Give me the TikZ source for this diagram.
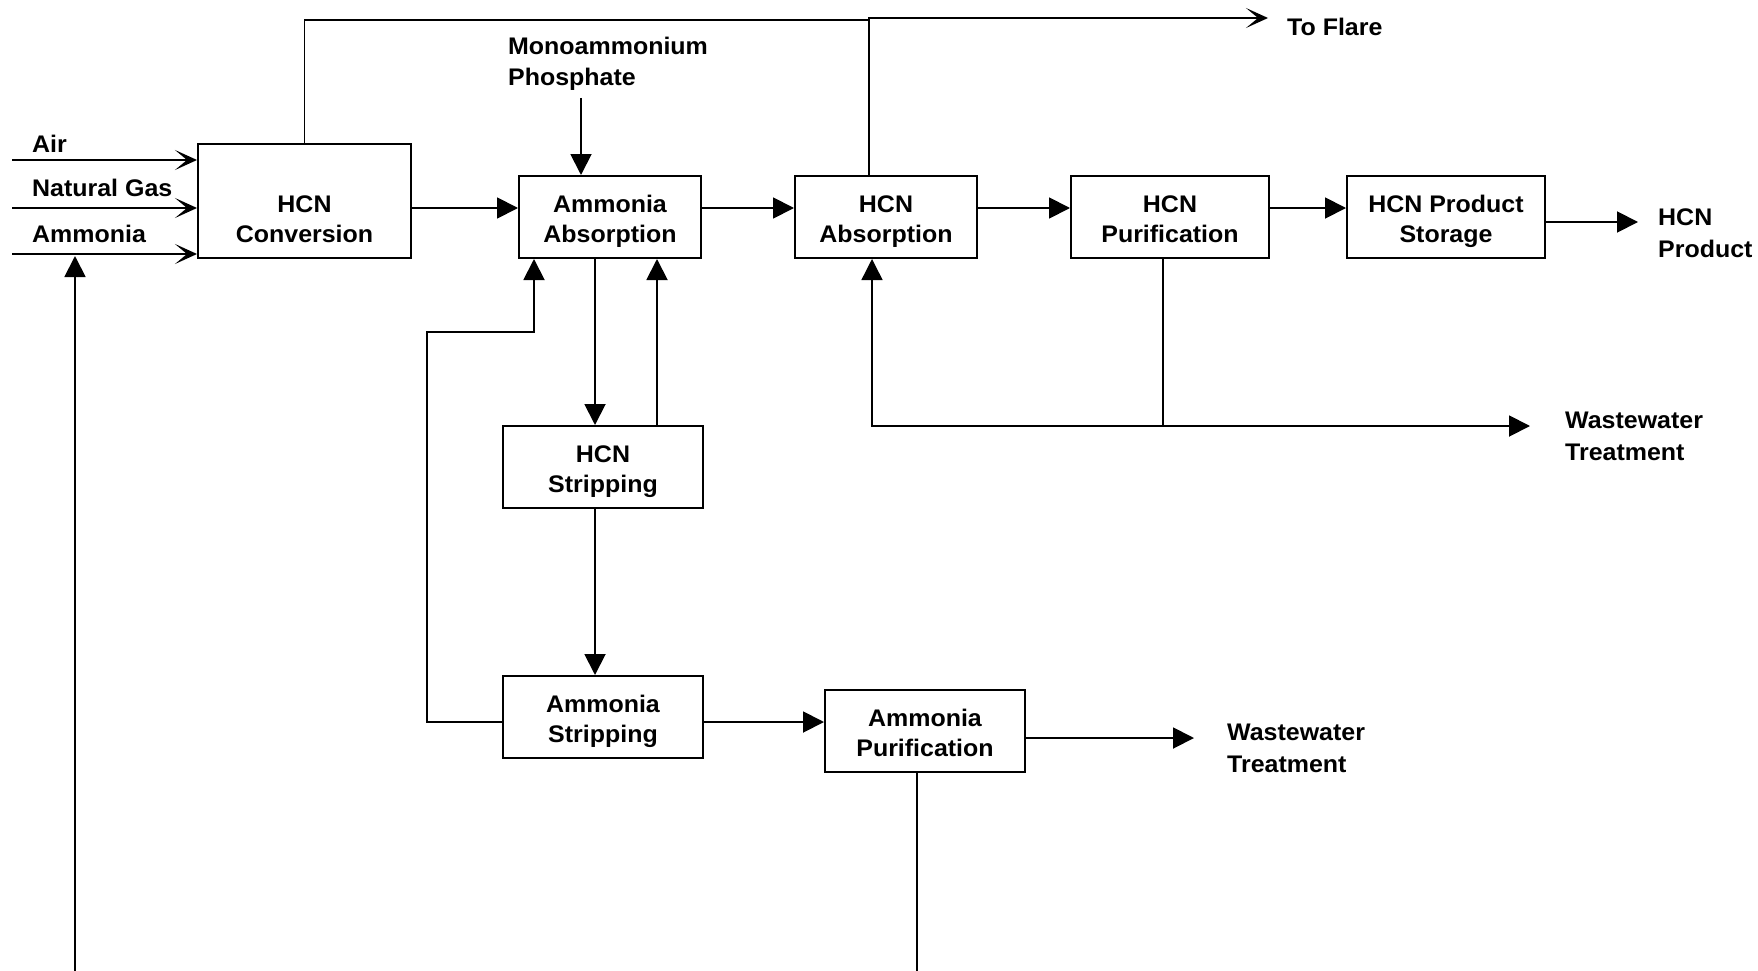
\documentclass[tikz,border=0pt]{standalone}
\usepackage{fontspec}
\setmainfont{Liberation Sans}[FakeStretch=1.04]
\usetikzlibrary{arrows.meta}
\newcommand{\boxfont}{\bfseries\fontsize{24}{30}\selectfont}
\newcommand{\lblfont}{\bfseries\fontsize{24}{31.5}\selectfont}
\begin{document}
\begin{tikzpicture}[x=1pt,y=-1pt,
  box/.style={draw, line width=2pt, rectangle, inner sep=0pt, align=center, font=\boxfont, text height=50pt, text depth=0pt},
  lbl/.style={inner sep=0pt, align=left, font=\lblfont, anchor=base west},
  plain/.style={line width=1.9pt},
  tarrow/.style={line width=1.9pt, -{Triangle[length=21pt,width=21pt]}},
  tarrowthin/.style={line width=1.4pt, -{Triangle[length=21pt,width=21pt]}},
  sarrow/.style={line width=1.9pt, -{Stealth[length=22pt,width=20pt,inset=12pt]}}]
\useasboundingbox (0,0) rectangle (1758,971);

% boxes
\node[draw, line width=2pt, rectangle, minimum width=213pt, minimum height=114pt] (conv) at (304.5,201) {};
\node[inner sep=0pt, align=center, font=\boxfont, text height=50pt, text depth=0pt] (convtext) at (304.5,217) {HCN\\Conversion};
\node[box, minimum width=182pt, minimum height=82pt] (aabs) at (610,217) {Ammonia\\Absorption};
\node[box, minimum width=182pt, minimum height=82pt] (habs) at (886,217) {HCN\\Absorption};
\node[box, minimum width=198pt, minimum height=82pt] (hpur) at (1170,217) {HCN\\Purification};
\node[box, minimum width=198pt, minimum height=82pt] (stor) at (1446,217) {HCN Product\\Storage};
\node[box, minimum width=200pt, minimum height=82pt] (hstr) at (603,467) {HCN\\Stripping};
\node[box, minimum width=200pt, minimum height=82pt] (astr) at (603,717) {Ammonia\\Stripping};
\node[box, minimum width=200pt, minimum height=82pt] (apur) at (925,731) {Ammonia\\Purification};

% labels (base = baseline of last line)
\node[lbl] (lair) at (32,153) {Air};
\node[lbl] (lng) at (32,196) {Natural Gas};
\node[lbl] (lam) at (32,242) {Ammonia};
\node[lbl] (lmono) at (508,86) {Monoammonium\\Phosphate};
\node[lbl] (lflare) at (1287,36) {To Flare};
\node[lbl] (lprod) at (1658,257) {HCN\\Product};
\node[lbl] (lww1) at (1565,460) {Wastewater\\Treatment};
\node[lbl] (lww2) at (1227,772) {Wastewater\\Treatment};

% helper coordinates
\coordinate (airS) at (12,160);
\coordinate (ngS) at (12,208);
\coordinate (amS) at (12,254);
\coordinate (recB) at (75,971);
\coordinate (recT) at (75,256);
\coordinate (topj) at (870,20);
\coordinate (fx) at (869,18);
\coordinate (flare) at (1268,18);
\coordinate (monoS) at (581,98);
\coordinate (y208) at (0,208);
\coordinate (prodE) at (1638,222);
\coordinate (lp) at (427,332);
\coordinate (lx) at (534,0);
\coordinate (mx) at (595,0);
\coordinate (rx) at (657,0);
\coordinate (y722) at (0,722);
\coordinate (ww2E) at (1194,738);
\coordinate (apB) at (917,971);
\coordinate (px) at (1163,0);
\coordinate (hx) at (872,426);
\coordinate (ww1E) at (1530,426);

% feeds
\draw[sarrow] (airS) -- (airS -| conv.west);
\draw[sarrow] (ngS) -- (ngS -| conv.west);
\draw[sarrow] (amS) -- (amS -| conv.west);
\draw[tarrow] (recB) -- (recT);

% flare lines
\draw[plain] (conv.north) |- (topj);
\draw[sarrow] (habs.north -| fx) |- (flare);

% monoammonium phosphate
\draw[tarrow] (monoS) -- (monoS |- aabs.north);

% main train
\draw[tarrow] (conv.east |- y208) -- (aabs.west |- y208);
\draw[tarrow] (aabs.east |- y208) -- (habs.west |- y208);
\draw[tarrow] (habs.east |- y208) -- (hpur.west |- y208);
\draw[tarrow] (hpur.east |- y208) -- (stor.west |- y208);
\draw[tarrow] (stor.east |- prodE) -- (prodE);

% stripping loop
\draw[tarrow] (aabs.south -| mx) -- (hstr.north -| mx);
\draw[tarrow] (hstr.north -| rx) -- (aabs.south -| rx);
\draw[tarrow] (hstr.south -| mx) -- (astr.north -| mx);
\draw[tarrow] (astr.west |- y722) -| (lp) -| (aabs.south -| lx);
\draw[tarrow] (astr.east |- y722) -- (apur.west |- y722);
\draw[tarrow] (apur.east |- ww2E) -- (ww2E);
\draw[plain] (apur.south -| apB) -- (apB);

% purification water
\draw[tarrowthin] (hpur.south -| px) -- (px |- hx) -- (hx) -- (habs.south -| hx);
\draw[tarrow] (hx) -- (ww1E);
\end{tikzpicture}
\end{document}
